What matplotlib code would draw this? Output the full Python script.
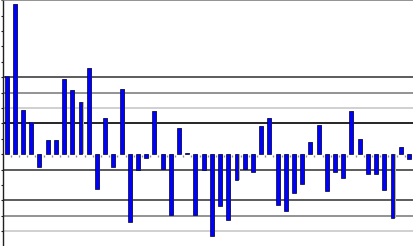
import numpy as np
import matplotlib
matplotlib.use("Agg")
import matplotlib.pyplot as plt

# bar values (one tick = 1 unit)
values = [5.06, 9.79, 2.86, 2.08, -0.82, 0.95, 0.95, 4.87, 4.16, 3.40,
          5.58, -2.25, 2.34, -0.82, 4.26, -4.44, -1.06, -0.22, 2.79, -0.97,
          -3.94, 1.69, 0.08, -3.98, -1.06, -5.35, -3.36, -4.26, -1.71, -0.97,
          -1.13, 1.82, 2.36, -3.33, -3.70, -2.51, -1.97, 0.78, 1.88, -2.38,
          -1.15, -1.56, 2.79, 0.99, -1.26, -1.32, -2.30, -4.13, 0.45, -0.30]

# reference levels and their line colours
ref_levels = [5, 4, 3, 2, -1, -3, -4, -5]
ref_colors = ['#404040', '#808080', '#c8c8c8', '#000000',
              '#404040', '#404040', '#808080', '#c8c8c8']

BAR_COLOR = '#0000ff'
SHADOW = '#b4b4b4'

x = np.arange(len(values))

fig = plt.figure(figsize=(4.13, 2.46), dpi=100)
ax = fig.add_axes([2.5 / 413, 0, 1 - 2.5 / 413, 1])

for lvl, c in zip(ref_levels, ref_colors):
    ax.axhline(lvl, color=c, linewidth=1.2, zorder=1)

# shadow then the bar itself
ax.bar(x + 0.13, values, width=0.48, color=SHADOW, zorder=2)
ax.bar(x, values, width=0.48, color=BAR_COLOR, edgecolor='#000030',
       linewidth=0.5, zorder=3)

# little category separators on the zero line
ax.plot(x[:-1] + 0.5, np.zeros(len(x) - 1) - 0.1, linestyle='none',
        marker='|', markersize=1.5, color='#909090', zorder=2)

ax.set_xlim(-0.5, len(values) - 0.5)
ax.set_ylim(-5.97, 10.02)
ax.set_yticks(np.arange(-5, 11, 1))
ax.set_yticklabels([])
ax.set_xticks([])
ax.tick_params(axis='y', direction='out', length=1.6, width=0.8, color='#202020')

ax.spines['right'].set_visible(False)
ax.spines['bottom'].set_visible(False)
ax.spines['top'].set_color('#808080')
ax.spines['top'].set_linewidth(1.2)
ax.spines['left'].set_color('#202020')
ax.spines['left'].set_linewidth(1.0)

fig.savefig('out.png', dpi=100)
